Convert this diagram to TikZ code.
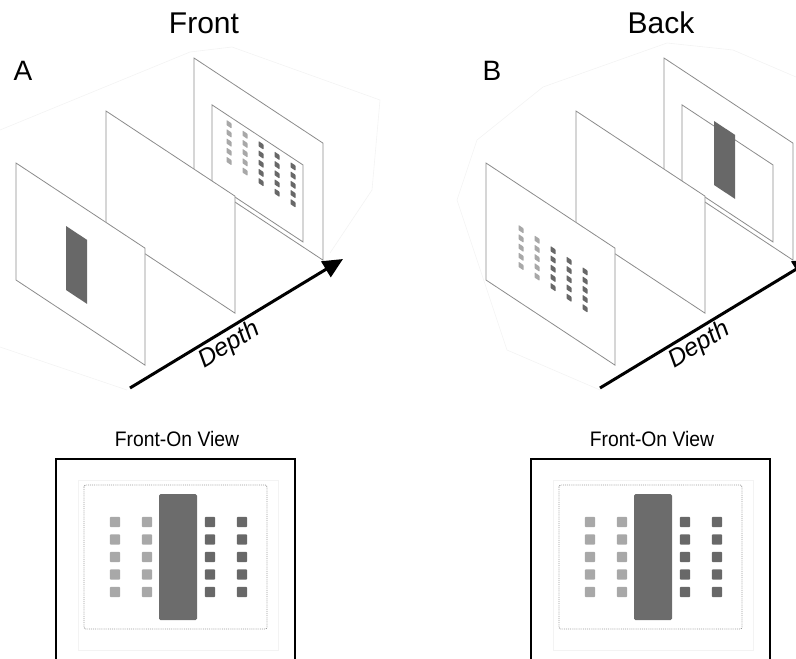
\documentclass[tikz,border=0pt]{standalone}
\usepackage{fontspec}
\setmainfont{Liberation Sans}
\usetikzlibrary{arrows.meta}

\definecolor{edgegray}{HTML}{8C8C8C}
\definecolor{stimdark}{HTML}{686868}
\definecolor{stimlight}{HTML}{A8A8A8}
\definecolor{bardark}{HTML}{6C6C6C}
\definecolor{haze}{HTML}{F3F3F3}
\definecolor{framegray}{HTML}{9A9A9A}

\tikzset{
  planeedge/.style={draw=edgegray, fill=white, line width=0.8pt},
  innerframe/.style={draw=edgegray, line width=0.8pt},
  depthaxis/.style={line width=3pt, -{Triangle[length=20pt,width=18pt]}},
  faint/.style={draw=haze, line width=0.6pt},
  viewbox/.style={draw=black, line width=2.6pt},
  title/.style={font=\fontsize{30}{32}\selectfont, anchor=base},
  letter/.style={font=\fontsize{28}{30}\selectfont, anchor=base},
  viewlabel/.style={font=\fontsize{21}{23}\selectfont, anchor=base, xscale=0.92},
  depthlabel/.style={font=\fontsize{25}{27}\selectfont\itshape, rotate=31.2, anchor=north, inner sep=3pt},
}

% a sheared plane; #1,#2 = top-left corner, #3 = contents in plane coordinates
\newcommand{\sheet}[3]{%
  \begin{scope}[shift={(#1,#2)}, yslant=-0.66]
    \path[planeedge] (0,0) rectangle (129,117);
    #3
  \end{scope}}

% the 5x5 array of small squares, two light columns and three dark ones
\newcommand{\dotarray}{%
  \foreach \i/\c in {0/stimlight,1/stimlight,2/stimdark,3/stimdark,4/stimdark}{
    \foreach \j in {0,...,4}{
      \fill[\c, rounded corners=0.6pt] ({32.5+16*\i},{40.5+9.2*\j}) rectangle ++(5,5.2);
    }}}

% the vertical bar
\newcommand{\barpatch}{\fill[stimdark] (50,30) rectangle (71,94);}

% front-on view, #1 = left edge of the frame
\newcommand{\frontview}[2]{%
  \node[viewlabel] (#2lbl) at (#1+121,446) {Front-On View};
  \draw[faint] (#1+22,480) rectangle (#1+222,650);
  \draw[framegray, line width=0.9pt, densely dotted, rounded corners=2pt] (#1+28,485) rectangle (#1+211,629);
  \foreach \cx/\c in {59/stimlight,91/stimlight,154/stimdark,186/stimdark}{
    \foreach \cy in {522,539.5,557,574.5,592}{
      \fill[\c, rounded corners=1pt] (#1+\cx-5.2,\cy-5.2) rectangle ++(10.4,10.4);
    }}
  \fill[bardark, rounded corners=1.5pt] (#1+103,494) rectangle (#1+141,620);
  \draw[viewbox] (#1,459) rectangle (#1+239,700);
}

\begin{document}
\begin{tikzpicture}[x=1pt,y=-1pt]
\useasboundingbox (0,0) rectangle (796,659);
\clip (0,0) rectangle (796,659);

% faint outlines around the two scenes
\draw[faint] (0,130) -- (190,52) -- (232,47) -- (380,100) -- (372,190) -- (330,253);
\draw[faint] (0,347) -- (127,390);
\draw[faint] (457,200) -- (477,140) -- (543,87) -- (667,43) -- (733,50) -- (796,77);
\draw[faint] (457,200) -- (507,350) -- (600,390);

% titles and panel letters
\node[title] (tfront) at (204,33) {Front};
\node[title] (tback) at (661,33) {Back};
\node[letter] (la) at (23,80) {A};
\node[letter] (lb) at (492,80) {B};

% panel A: back, middle and front planes
\sheet{194}{58}{%
  \draw[innerframe] (18,35) rectangle (109,112);
  \dotarray}
\sheet{106}{111}{}
\sheet{16}{163}{\barpatch}

\coordinate (a0) at (130,388);
\coordinate (a1) at (343,259);
\draw[depthaxis] (a0) -- coordinate[pos=0.43] (am) (a1);
\node[depthlabel] (ad) at (am) {Depth};

% panel B: back, middle and front planes
\sheet{664}{58}{%
  \draw[innerframe] (18,35) rectangle (109,112);
  \barpatch}
\sheet{576}{111}{}
\sheet{486}{163}{\dotarray}

\coordinate (b0) at (600,388);
\coordinate (b1) at (813,259);
\draw[depthaxis] (b0) -- coordinate[pos=0.43] (bm) (b1);
\node[depthlabel] (bd) at (bm) {Depth};

% front-on views
\frontview{56}{fa}
\frontview{531}{fb}
\end{tikzpicture}
\end{document}
